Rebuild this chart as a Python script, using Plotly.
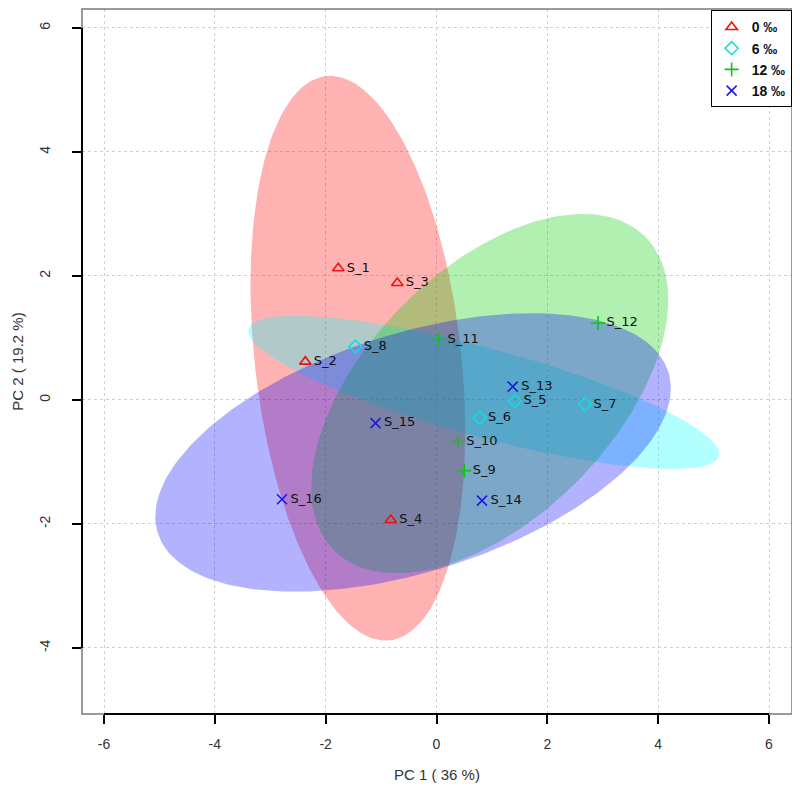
import numpy as np
import plotly.graph_objects as go

# ---- data ----
sample_labels = ["S_1", "S_2", "S_3", "S_4", "S_5", "S_6", "S_7", "S_8",
                 "S_9", "S_10", "S_11", "S_12", "S_13", "S_14", "S_15", "S_16"]
pc1 = [-1.772, -2.367, -0.707, -0.826, 1.416, 0.776, 2.680, -1.465,
       0.502, 0.384, 0.045, 2.914, 1.375, 0.821, -1.101, -2.788]
pc2 = [2.124, 0.618, 1.887, -1.935, -0.016, -0.285, -0.069, 0.860,
       -1.140, -0.669, 0.979, 1.242, 0.215, -1.624, -0.374, -1.602]
group_of_sample = ["0 ‰"] * 4 + ["6 ‰"] * 4 + ["12 ‰"] * 4 + ["18 ‰"] * 4
groups = ["0 ‰", "6 ‰", "12 ‰", "18 ‰"]
group_colors = ["#EE1111", "#11DDDD", "#11C411", "#1A1AE6"]
fill_rgb = ["255,0,0", "0,255,255", "0,205,0", "0,0,255"]
symbols = ["triangle-up-open", "diamond-open", "cross-thin-open", "x-thin-open"]
x_ticks = [-6, -4, -2, 0, 2, 4, 6]
y_ticks = [-4, -2, 0, 2, 4, 6]
ellipse_level = 0.95

FONT = "Liberation Sans, Arial, sans-serif"
fig = go.Figure()

x_arr = np.array(pc1)
y_arr = np.array(pc2)
g_arr = np.array(group_of_sample)
k = np.sqrt(-2.0 * np.log(1.0 - ellipse_level))  # chi-square 2 df radius
t = np.linspace(0, 2 * np.pi, 241)

# confidence ellipses
for g, rgb in zip(groups, fill_rgb):
    m = g_arr == g
    pts = np.vstack([x_arr[m], y_arr[m]])
    mu = pts.mean(axis=1)
    cov = np.cov(pts)
    vals, vecs = np.linalg.eigh(cov)
    circ = np.vstack([np.cos(t), np.sin(t)])
    ell = vecs @ (np.sqrt(vals)[:, None] * circ) * k + mu[:, None]
    fig.add_trace(go.Scatter(x=ell[0], y=ell[1], mode="lines", fill="toself",
                             fillcolor=f"rgba({rgb},0.3)", line=dict(width=0),
                             hoverinfo="skip", showlegend=False))

# points
for g, c, s in zip(groups, group_colors, symbols):
    m = g_arr == g
    fig.add_trace(go.Scatter(
        x=x_arr[m], y=y_arr[m], mode="markers", name=g,
        marker=dict(symbol=s, size=10, color=c, line=dict(color=c, width=1.6)),
    ))

# labels
fig.add_trace(go.Scatter(
    x=pc1, y=pc2, mode="markers+text", text=sample_labels,
    textposition="middle right",
    marker=dict(size=12, opacity=0),
    textfont=dict(family="DejaVu Sans, sans-serif", size=13, color="#111111"),
    showlegend=False, hoverinfo="skip",
))

# box and R-style axis lines
fig.add_shape(type="rect", xref="paper", yref="paper", x0=0, x1=1, y0=0, y1=1,
              line=dict(color="#7a7a7a", width=1.5), layer="above")
fig.add_shape(type="line", xref="x", yref="paper", x0=x_ticks[0], x1=x_ticks[-1],
              y0=0, y1=0, line=dict(color="black", width=2), layer="above")
fig.add_shape(type="line", xref="paper", yref="y", x0=0, x1=0,
              y0=y_ticks[0], y1=y_ticks[-1], line=dict(color="black", width=2), layer="above")

fig.update_layout(
    width=792, height=792,
    margin=dict(l=74, r=8, t=1, b=86, autoexpand=False),
    plot_bgcolor="white", paper_bgcolor="white",
    font=dict(family=FONT, size=13, color="#333333"),
    legend=dict(x=0.9995, y=0.998, xanchor="right", yanchor="top",
                bgcolor="white", bordercolor="black", borderwidth=1,
                font=dict(family="Liberation Sans, Arial, sans-serif", size=14,
                          color="#111111", weight="bold"),
                itemwidth=30),
)
fig.update_xaxes(
    automargin=False,
    range=[-6.397, 6.415], tickvals=x_ticks, ticktext=[str(v) for v in x_ticks],
    showgrid=True, gridcolor="#cfcfcf", griddash="dot", gridwidth=1,
    zeroline=False, showline=False, ticks="outside", ticklen=9, tickwidth=1.5,
    tickcolor="black", ticklabelstandoff=8,
    tickfont=dict(size=14, color="#333333"),
    title=dict(text="PC 1 ( 36 %)", font=dict(size=15, color="#333333"), standoff=18),
)
fig.update_yaxes(
    automargin=False,
    range=[-5.065, 6.306], tickvals=y_ticks, ticktext=[str(v) for v in y_ticks],
    showgrid=True, gridcolor="#cfcfcf", griddash="dot", gridwidth=1,
    zeroline=False, showline=False, ticks="outside", ticklen=9, tickwidth=1.5,
    tickcolor="black", tickangle=-90, ticklabelstandoff=16,
    tickfont=dict(size=14, color="#333333"),
    title=dict(text="PC 2 ( 19.2 %)", font=dict(size=15, color="#333333"), standoff=10),
)

fig.write_html("out.html")
